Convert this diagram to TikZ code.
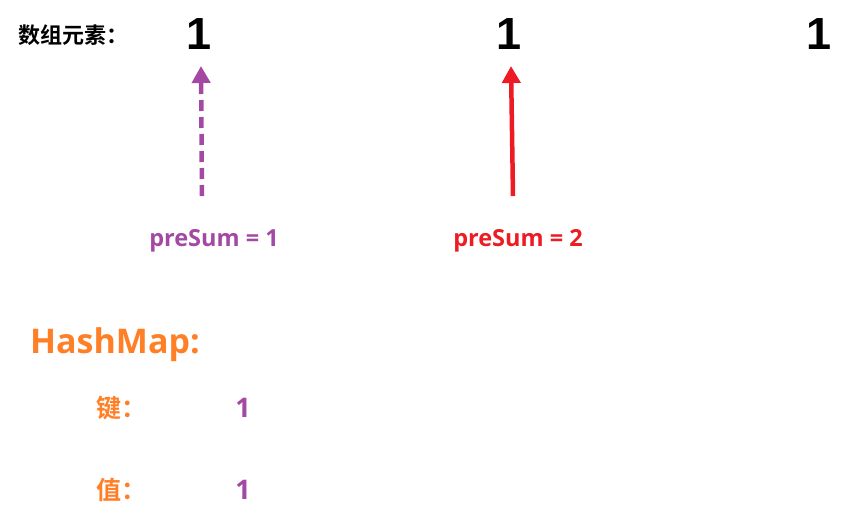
\documentclass[tikz,border=0pt]{standalone}
\usepackage{fontspec}
\setmainfont{Liberation Sans}
\newfontfamily\cjk{Noto Sans CJK SC}[BoldFont={* Bold}]
\newfontfamily\lat{Open Sans}[BoldFont={* Bold}]
\usetikzlibrary{arrows.meta}
\definecolor{mypurple}{HTML}{A349A4}
\definecolor{myred}{HTML}{ED1C24}
\definecolor{myorange}{HTML}{FF7F27}
\tikzset{
  elem/.style={font=\fontsize{45}{45}\selectfont\bfseries, text=black, inner sep=0pt},
  lbl/.style={font=\lat\fontsize{23.5}{23.5}\selectfont\bfseries, inner sep=0pt},
  cjklbl/.style={font=\cjk\fontsize{25}{25}\selectfont\bfseries, inner sep=0pt, anchor=west, text=myorange},
  val/.style={font=\lat\fontsize{27}{27}\selectfont\bfseries, inner sep=0pt, text=mypurple},
  ptr/.style={line width=4.5pt, -{Triangle[length=17pt,width=18pt]}},
}
\begin{document}
\begin{tikzpicture}[x=1pt,y=-1pt]
\useasboundingbox (0,0) rectangle (854,516);
\node[anchor=west, inner sep=0pt, text=black, font=\cjk\fontsize{22}{22}\selectfont\bfseries] (title) at (18,35) {数组元素：};
\node[elem] (e1) at (199,34) {1};
\node[elem] (e2) at (509,34) {1};
\node[elem] (e3) at (819,34) {1};
\coordinate (s1) at (202,196);
\coordinate (s2) at (513,196);
\draw[ptr, mypurple, dash pattern=on 11pt off 6pt] (s1) -- (201,66);
\draw[ptr, myred] (s2) -- (511,66);
\node[lbl, text=mypurple] (p1) at (214,241) {preSum = 1};
\node[lbl, text=myred] (p2) at (518,241) {preSum = 2};
\node[anchor=west, inner sep=0pt, text=myorange, font=\lat\fontsize{34}{34}\selectfont\bfseries] (hm) at (30,345) {HashMap:};
\node[cjklbl] (k) at (96,408) {键：};
\node[val] (kv) at (243,408) {1};
\node[cjklbl] (v) at (96,490) {值：};
\node[val] (vv) at (243,490) {1};
\end{tikzpicture}
\end{document}
